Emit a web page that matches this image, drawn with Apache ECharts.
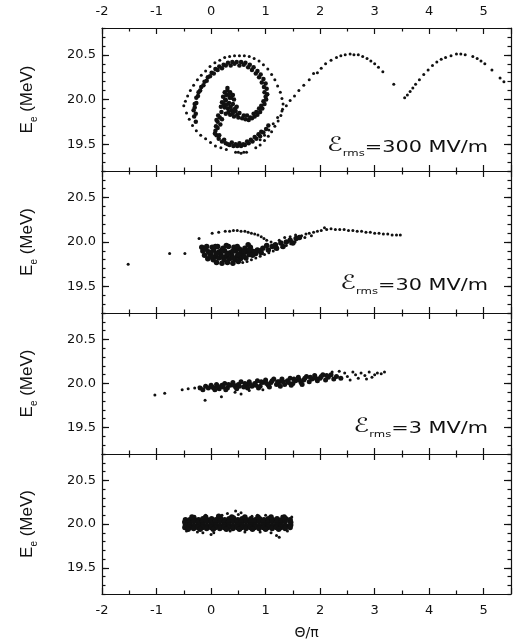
<!DOCTYPE html>
<html>
<head>
<meta charset="utf-8">
<script src="https://cdn.jsdelivr.net/npm/echarts@6/dist/echarts.min.js"></script>
<style>
  html, body { margin: 0; padding: 0; background: #fff; }
  #box { width: 528px; height: 641px; }
</style>
</head>
<body>
<div id="box"></div>
<script>
// axis ranges / ticks
const xRange = [-2, 5.5];
const yRange = [19.2, 20.8];
const yMajorTicks = [19.5, 20.0, 20.5];
const fieldLabels = ["=300 MV/m", "=30 MV/m", "=3 MV/m"];

// panel 1 : 300 MV/m, spiral + drifting tail
const p1Core = [
  [0.25,20.08],[0.3,20.1],[0.35,20.08],[0.4,20.05],[0.22,20.03],[0.28,20.05],[0.34,20.02],[0.42,20.0],
  [0.2,19.97],[0.27,19.99],[0.33,19.96],[0.4,19.95],[0.47,19.92],[0.18,19.92],[0.25,19.91],[0.31,19.9],
  [0.38,19.88],[0.45,19.87],[0.52,19.85],[0.19,19.86],[0.27,19.84],[0.35,19.83],[0.42,19.81],[0.5,19.8],
  [0.57,19.79],[0.3,20.13],[0.37,20.02],[0.23,19.95],
  [0.63,19.78],[0.69,19.77],[0.75,19.79],[0.8,19.81],[0.85,19.83],[0.9,19.86],[0.94,19.9],[0.98,19.95],
  [1.01,20.0],[1.03,20.06],[1.02,20.12],[1.0,20.18],[0.96,20.23],[0.91,20.28],[0.85,20.32],[0.78,20.36],
  [0.71,20.39],[0.63,20.41],[0.55,20.42],[0.47,20.42],[0.39,20.42],[0.31,20.41],[0.23,20.39],[0.15,20.37],
  [0.08,20.34],[0.01,20.3],[-0.06,20.25],[-0.12,20.2],[-0.18,20.14],[-0.23,20.08],[-0.27,20.02],[-0.3,19.95],
  [-0.32,19.88],[-0.31,19.81],[-0.28,19.75],
  [0.66,19.82],[0.78,19.84],[0.88,19.9],[0.96,19.98],[0.98,20.08],[0.93,20.19],[0.82,20.29],[0.68,20.36],
  [0.52,20.38],[0.36,20.38],[0.2,20.35],[0.05,20.29],[-0.08,20.21],[-0.2,20.1],[-0.27,19.96],[-0.28,19.84],
  [0.16,19.8],[0.12,19.75],[0.09,19.7],[0.08,19.65],[0.1,19.6],[0.14,19.56],[0.2,19.53],[0.27,19.51],
  [0.34,19.49],[0.41,19.48],[0.48,19.48],[0.55,19.48],[0.62,19.49],[0.69,19.51],[0.76,19.53],[0.83,19.56],
  [0.9,19.59],[0.96,19.63],[1.01,19.67],[1.05,19.71],
  [0.13,19.82],[0.12,19.68],[0.15,19.6],[0.24,19.55],[0.38,19.52],[0.52,19.51],[0.66,19.53],[0.8,19.58],
  [0.92,19.64],[0.2,19.78],[0.17,19.72],
  [0.29,19.94],[0.36,19.92],[0.44,19.9],[0.32,19.86],[0.4,19.85],[0.48,19.83],[0.26,20.0],[0.33,20.06],
  [0.6,19.82],[0.72,19.8],[0.83,19.86],[0.92,19.93],[1.0,20.03],[0.97,20.14],[0.88,20.25],[0.75,20.33],
  [0.6,20.39],[0.43,20.4],[0.27,20.38],[0.12,20.33],[-0.02,20.26],[-0.14,20.16],[-0.24,20.04],[-0.3,19.91],
  [0.1,19.77],[0.07,19.62],[0.31,19.5],[0.45,19.5],[0.59,19.5],[0.73,19.55],[0.87,19.61]
];
const p1Dots = [
  [-0.5,19.93],[-0.47,19.98],[-0.43,20.04],[-0.38,20.1],[-0.32,20.16],[-0.25,20.22],[-0.18,20.27],[-0.1,20.32],
  [-0.02,20.37],[0.07,20.41],[0.16,20.44],[0.25,20.47],[0.34,20.48],[0.43,20.49],[0.52,20.49],[0.61,20.49],
  [0.7,20.48],[0.79,20.46],[0.88,20.43],[0.96,20.39],[1.04,20.34],[1.11,20.28],[1.17,20.22],[1.22,20.15],
  [1.27,20.08],[1.3,20.01],[1.32,19.95],[1.31,19.89],
  [1.28,19.82],[1.23,19.76],[1.17,19.7],[1.11,19.64],[1.05,19.59],[0.98,19.54],[0.9,19.49],[0.82,19.46],
  [0.45,19.41],[0.5,19.41],[0.55,19.4],[0.6,19.41],[0.65,19.41],
  [-0.45,19.85],[-0.4,19.78],[-0.34,19.71],[-0.27,19.65],[-0.19,19.6],[-0.1,19.56],[-0.01,19.52],[0.08,19.48],
  [0.18,19.46],[0.28,19.44],
  [0.9,19.55],[0.98,19.6],[1.06,19.66],[1.14,19.73],[1.22,19.8],[1.3,19.87],[1.38,19.93],[1.45,19.99],
  [1.53,20.04],[1.61,20.1],[1.7,20.16],[1.8,20.22],[1.88,20.29],
  [1.95,20.3],[2.02,20.35],[2.1,20.4],[2.2,20.44],[2.3,20.47],[2.38,20.49],[2.46,20.5],[2.55,20.51],
  [2.62,20.5],[2.7,20.5],[2.78,20.48],[2.86,20.46],[2.93,20.43],[3.0,20.4],[3.07,20.36],[3.15,20.31],
  [3.35,20.17],[3.55,20.02],[3.6,20.05],[3.65,20.09],[3.7,20.13],[3.75,20.17],[3.82,20.22],[3.9,20.28],
  [3.98,20.33],[4.06,20.38],[4.14,20.42],[4.22,20.45],[4.3,20.47],[4.4,20.49],[4.5,20.51],[4.58,20.51],
  [4.66,20.5],[4.8,20.48],[4.88,20.46],[4.95,20.43],[5.02,20.4],[5.15,20.33],[5.3,20.24],[5.37,20.2]
];

// panel 2 : 30 MV/m
const p2Core = [
  [-0.17,19.94],[-0.08,19.95],[0.02,19.94],[0.12,19.95],[0.22,19.93],[0.32,19.95],[0.42,19.94],[0.52,19.92],
  [0.62,19.93],[0.72,19.94],
  [-0.15,19.9],[-0.05,19.89],[0.05,19.91],[0.15,19.89],[0.25,19.9],[0.35,19.88],[0.45,19.9],[0.55,19.88],
  [0.65,19.89],[0.75,19.9],[0.85,19.91],
  [-0.12,19.85],[-0.02,19.86],[0.08,19.84],[0.18,19.86],[0.28,19.84],[0.38,19.85],[0.48,19.84],[0.58,19.85],
  [0.7,19.86],[0.82,19.87],[0.92,19.88],
  [-0.06,19.81],[0.04,19.8],[0.14,19.82],[0.24,19.8],[0.34,19.81],[0.44,19.8],[0.54,19.81],[0.64,19.82],
  [0.1,19.77],[0.2,19.76],[0.3,19.77],[0.4,19.76],[0.5,19.78],
  [0.95,19.93],[1.02,19.96],[1.05,19.91],[1.12,19.95],[1.18,19.97],[1.2,19.93],[1.28,19.99],[1.32,19.95],
  [1.38,20.0],[1.45,20.02],[1.5,19.99],[1.56,20.04],[1.62,20.05],
  [-0.1,19.92],[0.0,19.88],[0.1,19.87],[0.2,19.91],[0.3,19.87],[0.4,19.9],[0.5,19.86],[0.6,19.9],
  [0.7,19.91],[0.8,19.89],[0.9,19.9],[0.0,19.83],[0.2,19.83],[0.4,19.82],[0.6,19.84],[0.76,19.85],
  [0.08,19.95],[0.28,19.96],[0.48,19.95],[0.68,19.97]
];
const p2Dots = [
  [-1.52,19.75],[-0.76,19.87],[-0.48,19.87],[-0.22,20.04],[0.02,20.1],[0.14,20.11],[0.26,20.12],[0.34,20.12],
  [0.41,20.13],[0.48,20.13],[0.55,20.12],[0.62,20.12],[0.68,20.11],[0.74,20.1],[0.8,20.09],[0.86,20.08],
  [0.92,20.06],[0.97,20.04],[1.02,20.02],
  [0.58,19.77],[0.66,19.78],[0.74,19.8],[0.82,19.82],[0.9,19.84],[0.98,19.86],[1.06,19.88],[1.14,19.9],
  [1.22,19.92],[1.3,19.94],[1.38,19.96],[1.46,19.98],[1.54,20.0],
  [1.1,20.0],[1.25,20.02],[1.35,20.05],[1.45,20.06],[1.55,20.08],
  [1.66,20.07],[1.72,20.05],[1.74,20.09],[1.8,20.1],[1.84,20.07],[1.88,20.11],[1.95,20.12],[2.02,20.13],
  [2.08,20.16],[2.12,20.14],[2.2,20.15],[2.28,20.14],[2.36,20.14],[2.44,20.14],[2.52,20.13],[2.6,20.13],
  [2.68,20.12],[2.76,20.12],[2.84,20.11],[2.92,20.11],[3.0,20.1],[3.08,20.1],[3.16,20.09],[3.24,20.09],
  [3.32,20.08],[3.4,20.08],[3.47,20.08]
];

// panel 3 : 3 MV/m
const p3Core = [
  [-0.2,19.95],[-0.1,19.97],[-0.15,19.93],[0.0,19.98],[0.05,19.95],[0.1,19.99],[0.15,19.94],[0.2,19.98],
  [0.25,20.0],[0.3,19.95],[0.35,19.98],[0.4,20.01],[0.45,19.96],[0.5,19.99],[0.55,20.02],[0.6,19.96],
  [0.65,19.99],[0.7,20.02],[0.75,19.97],[0.8,20.0],[0.85,20.03],[0.9,19.97],[0.95,20.01],[1.0,20.04],
  [1.05,19.98],[1.1,20.01],[1.15,20.05],[1.2,19.99],[1.25,20.02],[1.3,20.05],[1.35,19.99],[1.4,20.03],
  [1.45,20.06],[1.5,20.0],[1.55,20.03],[1.6,20.07],[1.65,20.01],[1.7,20.04],[1.75,20.08],[1.8,20.02],
  [1.85,20.05],[1.9,20.09],[1.95,20.03],[2.0,20.06],[2.05,20.1],[2.1,20.04],[2.15,20.07],[2.2,20.1],
  [2.25,20.05],[2.3,20.08],[2.38,20.06],
  [0.02,19.96],[0.12,19.97],[0.22,19.96],[0.32,19.99],[0.42,19.98],[0.52,19.97],[0.62,20.0],[0.72,19.99],
  [0.82,19.98],[0.92,20.02],[1.02,20.0],[1.12,20.03],[1.22,20.02],[1.32,20.02],[1.42,20.01],[1.52,20.05],
  [1.62,20.04],[1.72,20.06],[1.82,20.07],[1.92,20.06],[2.02,20.08],[2.12,20.09],
  [-0.05,19.95],[0.07,19.93],[0.27,19.93],[0.47,19.94],[0.67,19.95],[0.87,19.95],[1.07,19.96],[1.27,19.97],
  [1.47,19.98],[1.67,19.99]
];
const p3Dots = [
  [-1.03,19.87],[-0.85,19.89],[-0.53,19.93],[-0.42,19.94],[-0.3,19.95],[-0.22,19.96],[-0.11,19.81],[0.19,19.85],
  [0.44,19.9],[0.55,19.88],[0.7,19.92],[0.95,19.93],
  [2.22,20.13],[2.35,20.14],[2.45,20.12],[2.5,20.08],[2.55,20.04],[2.6,20.13],[2.65,20.1],[2.7,20.06],
  [2.75,20.12],[2.82,20.09],[2.85,20.05],[2.9,20.13],[2.95,20.07],[3.0,20.1],[3.05,20.12],[3.12,20.11],
  [3.18,20.13]
];

// panel 4 : no field
const p4Core = [
  [-0.47,20.05],[-0.39,20.05],[-0.31,20.06],[-0.23,20.05],[-0.15,20.06],[-0.07,20.05],[0.01,20.06],[0.09,20.05],
  [0.17,20.07],[0.25,20.05],[0.33,20.06],[0.41,20.07],[0.49,20.05],[0.57,20.06],[0.65,20.05],[0.73,20.06],
  [0.81,20.05],[0.89,20.06],[0.97,20.05],[1.05,20.06],[1.13,20.05],[1.21,20.06],[1.29,20.05],[1.37,20.06],[1.45,20.05],
  [-0.48,20.02],[-0.4,20.02],[-0.32,20.03],[-0.24,20.02],[-0.16,20.02],[-0.08,20.03],[0.0,20.02],[0.08,20.02],
  [0.16,20.03],[0.24,20.02],[0.32,20.02],[0.4,20.03],[0.48,20.02],[0.56,20.02],[0.64,20.03],[0.72,20.02],
  [0.8,20.02],[0.88,20.03],[0.96,20.02],[1.04,20.02],[1.12,20.03],[1.2,20.02],[1.28,20.02],[1.36,20.03],[1.46,20.02],
  [-0.47,19.99],[-0.39,19.99],[-0.31,19.98],[-0.23,19.99],[-0.15,19.99],[-0.07,19.98],[0.01,19.99],[0.09,19.99],
  [0.17,19.98],[0.25,19.99],[0.33,19.99],[0.41,19.98],[0.49,19.99],[0.57,19.99],[0.65,19.98],[0.73,19.99],
  [0.81,19.99],[0.89,19.98],[0.97,19.99],[1.05,19.99],[1.13,19.98],[1.21,19.99],[1.29,19.99],[1.37,19.98],[1.46,19.99],
  [-0.48,19.96],[-0.4,19.96],[-0.32,19.95],[-0.24,19.96],[-0.16,19.96],[-0.08,19.95],[0.0,19.96],[0.08,19.96],
  [0.16,19.95],[0.24,19.96],[0.32,19.96],[0.4,19.95],[0.48,19.96],[0.56,19.96],[0.64,19.95],[0.72,19.96],
  [0.8,19.96],[0.88,19.95],[0.96,19.96],[1.04,19.96],[1.12,19.95],[1.2,19.96],[1.28,19.96],[1.36,19.95],[1.45,19.96],
  [-0.42,19.94],[-0.2,19.94],[0.04,19.94],[0.28,19.94],[0.52,19.94],[0.76,19.94],[1.0,19.94],[1.24,19.94],
  [-0.35,20.08],[-0.1,20.08],[0.14,20.09],[0.38,20.08],[0.62,20.08],[0.86,20.08],[1.1,20.08],[1.34,20.08]
];
const p4Dots = [
  [-0.5,20.03],[-0.45,19.92],[-0.3,20.09],[-0.25,19.91],[-0.15,19.9],[-0.1,20.1],[0.0,19.88],[0.05,19.9],
  [0.2,20.1],[0.3,20.12],[0.35,19.92],[0.45,20.15],[0.5,20.11],[0.55,20.13],[0.62,19.91],[0.75,20.09],
  [0.85,20.1],[0.9,19.91],[1.0,20.1],[1.1,19.9],[1.2,19.87],[1.25,19.85],[1.3,20.09],[1.4,19.92],[1.48,20.08]
];

const panelTops = [28, 171, 313, 454];
const panelHeights = [143, 142, 141, 140];
const panels = [[p1Core, p1Dots], [p2Core, p2Dots], [p3Core, p3Dots], [p4Core, p4Dots]];
const coreSizes = [4.5, 5.5, 5, 5.5];

const ink = "#111";
const line = { color: ink, width: 1.2 };
const tickFont = { color: ink, fontFamily: "DejaVu Sans", fontSize: 13 };

const myChart = echarts.init(document.getElementById("box"), null, { renderer: "canvas" });

const grid = panelTops.map((t, i) => ({ left: 102, width: 409, top: t, height: panelHeights[i] }));

const xAxis = [];
const yAxis = [];
panelTops.forEach((t, i) => {
  ["bottom", "top"].forEach(pos => {
    const showLab = (pos === "bottom" && i === 3) || (pos === "top" && i === 0);
    xAxis.push({
      gridIndex: i, type: "value", position: pos,
      min: xRange[0], max: xRange[1], interval: 1,
      axisLine: { show: true, onZero: false, lineStyle: line },
      axisTick: { inside: true, length: 6, lineStyle: line },
      minorTick: { show: true, splitNumber: 2, length: 3.5, lineStyle: line },
      splitLine: { show: false },
      axisLabel: Object.assign({ show: showLab, margin: 10, showMaxLabel: false }, tickFont),
      name: pos === "bottom" && i === 3 ? "Θ/π" : "",
      nameLocation: "middle", nameGap: 32,
      nameTextStyle: { color: ink, fontFamily: "DejaVu Sans", fontSize: 14 }
    });
  });
  ["left", "right"].forEach(pos => {
    // minor ticks every 0.1
    yAxis.push({
      gridIndex: i, type: "value", position: pos,
      min: yRange[0], max: yRange[1], interval: 0.1,
      axisLine: { show: true, onZero: false, lineStyle: line },
      axisTick: { inside: true, length: 3.5, lineStyle: line },
      axisLabel: { show: false },
      splitLine: { show: false }
    });
    // major ticks + labels
    yAxis.push({
      gridIndex: i, type: "value", position: pos,
      min: yRange[0], max: yRange[1],
      axisLine: { show: false, onZero: false },
      axisTick: { inside: true, length: 7, lineStyle: line, customValues: yMajorTicks },
      axisLabel: Object.assign({ show: pos === "left", margin: 6, customValues: yMajorTicks,
        formatter: v => v.toFixed(1) }, tickFont),
      splitLine: { show: false },
      name: pos === "left" ? "{a|E}{b|e}{a| (MeV)}" : "",
      nameLocation: "middle", nameGap: 63,
      nameTextStyle: {
        color: ink,
        rich: {
          a: { fontFamily: "Liberation Sans", fontSize: 17, color: ink, verticalAlign: "bottom", padding: [0, 0, 3, 0] },
          b: { fontFamily: "Liberation Sans", fontSize: 10, color: ink, verticalAlign: "bottom" }
        }
      }
    });
  });
});

const series = [];
panels.forEach((p, i) => {
  series.push({
    type: "scatter", xAxisIndex: 2 * i, yAxisIndex: 4 * i, data: p[0],
    symbolSize: coreSizes[i], itemStyle: { color: ink, opacity: 1 }, silent: true
  });
  series.push({
    type: "scatter", xAxisIndex: 2 * i, yAxisIndex: 4 * i, data: p[1],
    symbolSize: 3, itemStyle: { color: ink, opacity: 1 }, silent: true
  });
});

const labelY = [147, 285, 428];
const graphic = fieldLabels.map((txt, i) => ({
  type: "text", x: 488, y: labelY[i], scaleX: 1.3, silent: true,
  style: {
    x: 0, y: 0, align: "right", verticalAlign: "middle",
    text: "{s|ℰ}{r|rms}{n|" + txt + "}",
    rich: {
      s: { fontFamily: "DejaVu Sans", fontSize: 20, fill: ink, verticalAlign: "bottom", padding: [0, 0, 2, 0] },
      r: { fontFamily: "DejaVu Sans", fontSize: 9, fill: ink, verticalAlign: "bottom" },
      n: { fontFamily: "DejaVu Sans", fontSize: 16, fill: ink, verticalAlign: "bottom", padding: [0, 0, 2, 0] }
    }
  }
}));

const option = {
  animation: false,
  backgroundColor: "#fff",
  grid: grid,
  xAxis: xAxis,
  yAxis: yAxis,
  series: series,
  graphic: graphic
};
myChart.setOption(option);
</script>
</body>
</html>
